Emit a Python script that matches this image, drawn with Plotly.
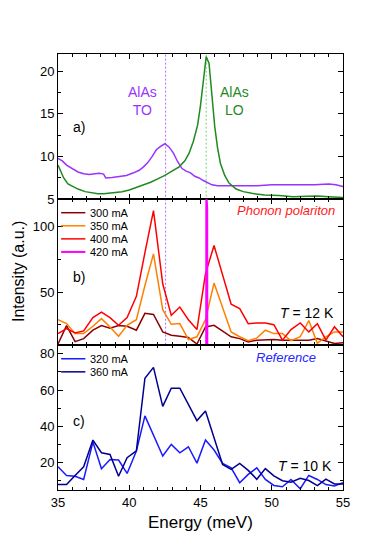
import plotly.graph_objects as go
from plotly.subplots import make_subplots

# panel a) : AlAs TO / LO reference spectra
e_to = [35.0, 35.3, 35.6, 36.0, 36.4, 36.8, 37.2, 37.6, 37.9, 38.2, 38.35, 38.8, 39.3, 39.8,
        40.3, 40.7, 41.0, 41.3, 41.6, 41.9, 42.2, 42.5, 42.8, 43.1, 43.4, 43.7, 44.0, 44.3,
        44.6, 44.9, 45.2, 45.5, 45.8, 46.2, 47.0, 48.0, 49.0, 50.0, 51.0, 52.0, 53.0, 54.0,
        54.5, 55.0]
i_to = [9.8, 9.5, 9.0, 8.6, 8.2, 8.0, 7.9, 8.0, 8.05, 7.95, 7.5, 7.55, 7.7, 7.8,
        8.1, 8.4, 8.8, 9.3, 10.0, 10.8, 11.2, 11.5, 11.1, 10.4, 9.4, 8.6, 8.3, 8.1,
        7.7, 7.5, 7.2, 6.9, 6.7, 6.6, 6.6, 6.65, 6.6, 6.7, 6.7, 6.75, 6.7, 6.8,
        6.7, 6.5]
e_lo = [35.0, 35.2, 35.4, 35.7, 36.0, 36.4, 36.9, 37.4, 37.8, 38.2, 38.6, 39.0, 39.5, 40.0,
        40.5, 41.0, 41.5, 42.0, 42.5, 43.0, 43.5, 43.9, 44.2, 44.5, 44.8, 45.0, 45.2, 45.4,
        45.6, 45.8, 46.0, 46.2, 46.4, 46.7, 47.0, 47.5, 48.0, 48.6, 49.5, 50.5, 51.5, 52.5,
        53.2, 54.0, 55.0]
i_lo = [9.0, 8.2, 7.5, 6.8, 6.5, 6.2, 5.9, 5.75, 5.65, 5.65, 5.7, 5.75, 5.9, 6.1,
        6.4, 6.7, 7.0, 7.4, 7.8, 8.3, 8.8, 9.5, 10.4, 11.8, 13.7, 16.0, 19.0, 21.7,
        20.9, 17.5, 13.5, 11.0, 9.2, 7.8, 6.9, 6.2, 5.9, 5.7, 5.5, 5.45, 5.3, 5.35,
        5.4, 5.3, 5.2]

# panels b) and c) share the same energy grid
energy = [35.0, 35.6, 36.2, 36.8, 37.45, 38.05, 38.65, 39.25, 39.85, 40.5, 41.1, 41.7,
          42.35, 42.95, 43.55, 44.15, 44.75, 45.35, 45.95, 46.55, 47.15, 47.75, 48.35,
          48.95, 49.55, 50.15, 50.75, 51.35, 52.0, 52.6, 53.2, 53.8, 54.4, 55.0]
i_300 = [10.5, 24.5, 12.3, 14.6, 21, 24.5, 22.5, 24.5, 24, 21, 33.8, 33,
         19.7, 17.2, 16.4, 15.4, 10.5, 23.5, 24.7, 20, 16, 14.6, 12.1,
         13.4, 13.9, 13.9, 13.4, 13.4, 13.9, 13.4, 14.6, 12.8, 10.9, 11.4]
i_350 = [29, 26, 18.4, 18.4, 24, 29.8, 23.4, 16.4, 24.7, 29, 55, 79,
         36.6, 25.5, 26, 13.9, 16, 29, 56.8, 38, 19.7, 16, 13,
         15, 21, 18.4, 18.4, 13, 16, 28.3, 11.1, 16, 19.7, 19.7]
i_400 = [18.4, 22.2, 18.9, 20.5, 30.6, 34.8, 30.6, 24.7, 30.6, 46.7, 80, 111.9,
         56.3, 32.3, 38.6, 29.0, 21.5, 64, 85.4, 63, 40.7, 37.4, 26.0,
         26.5, 26.5, 25.2, 13.4, 21.5, 26.5, 19.7, 26.0, 13.4, 23.6, 16.0]
e_420 = [45.40, 45.41, 45.47, 45.48]
i_420 = [0, 125, 114, 0]

i_320 = [17.8, 13, 12.6, 10.8, 31.4, 16.7, 21.8, 21.5, 14.1, 26.5, 45.8, 34.7,
         23.7, 30.1, 25.5, 28.8, 19.8, 32.5, 27, 19.6, 17.2, 9, 13.6,
         17.2, 10.8, 7.5, 6.8, 10.8, 5.7, 13, 10.8, 8, 7.2, 9]
i_360 = [8, 8, 13, 17.8, 32.5, 25.5, 24.6, 12.6, 22.8, 26.5, 66.5, 72.5,
         51, 61, 61, 52, 43.2, 48.5, 34, 19.1, 16.4, 19.6, 15.8,
         10.9, 16.8, 12.8, 10.1, 9.3, 11.5, 10.2, 7.4, 11, 8.3, 8.3]

to_line = 42.55
lo_line = 45.4

purple = "#9a33ff"
green = "#1f8a1f"

fig = make_subplots(rows=3, cols=1, shared_xaxes=True, vertical_spacing=0)

fig.add_trace(go.Scatter(x=e_to, y=i_to, mode="lines", line=dict(color=purple, width=1.5)),
              row=1, col=1)
fig.add_trace(go.Scatter(x=e_lo, y=i_lo, mode="lines", line=dict(color=green, width=1.5)),
              row=1, col=1)

series_b = [("300 mA", energy, i_300, "#8b0000", 1.5), ("350 mA", energy, i_350, "#ff8000", 1.5),
            ("400 mA", energy, i_400, "#ff0000", 1.5), ("420 mA", e_420, i_420, "#ff00ff", 2)]
series_c = [("320 mA", energy, i_320, "#1a1aff", 1.5), ("360 mA", energy, i_360, "#00008f", 1.5)]

ann = []
shapes = []
# compact legends drawn in the corner of each panel (short line + label)
for row, series, ytop in [(2, series_b, 0.908), (3, series_c, 0.903)]:
    for k, (name, xs, ys, col, w) in enumerate(series):
        fig.add_trace(go.Scatter(x=xs, y=ys, mode="lines", name=name,
                                 line=dict(color=col, width=w)), row=row, col=1)
        yy = ytop - k * 0.09
        shapes.append(dict(type="line", xref=f"x{row} domain", yref=f"y{row} domain",
                           x0=0.011, x1=0.096, y0=yy, y1=yy, line=dict(color=col, width=w)))
        ann.append(dict(x=0.104, y=yy, xref=f"x{row} domain", yref=f"y{row} domain",
                        text=name, xanchor="left", yanchor="middle",
                        font=dict(size=11, color="black")))

# dotted phonon lines through a) and b)
for xv, col in [(to_line, "#b366ff"), (lo_line, "#7acc7a")]:
    shapes.append(dict(type="line", xref="x", yref="paper", x0=xv, x1=xv, y0=1/3, y1=1,
                       line=dict(color=col, width=1, dash="2px,2px"), layer="below"))

font = "Liberation Sans, Arial, sans-serif"
ax = dict(showline=True, linecolor="black", linewidth=1, mirror="allticks", ticks="inside",
          ticklen=5, tickcolor="black", showgrid=False, zeroline=False,
          tickfont=dict(size=13, color="black"))
fig.update_xaxes(**ax, range=[35, 55], dtick=5,
                 minor=dict(ticks="inside", dtick=1, ticklen=3, tickcolor="black"))
fig.update_yaxes(**ax)
fig.update_yaxes(range=[5, 22], dtick=5,
                 minor=dict(ticks="inside", dtick=2.5, ticklen=3, tickcolor="black"), row=1, col=1)
fig.update_yaxes(range=[10, 120.5], tickvals=[50, 100],
                 minor=dict(ticks="inside", tickvals=[25, 75], ticklen=3, tickcolor="black"),
                 row=2, col=1)
fig.update_yaxes(range=[5, 85], tickvals=[20, 40, 60, 80],
                 minor=dict(ticks="inside", tickvals=[10, 30, 50, 70], ticklen=3, tickcolor="black"),
                 row=3, col=1)

ann += [
    dict(x=40.9, y=16.5, xref="x", yref="y", text="AlAs<br>TO", font=dict(size=14, color=purple)),
    dict(x=47.4, y=16.5, xref="x", yref="y", text="AlAs<br>LO", font=dict(size=14, color=green)),
    dict(x=36.5, y=13.5, xref="x", yref="y", text="a)", font=dict(size=14, color="black")),
    dict(x=36.5, y=61.4, xref="x2", yref="y2", text="b)", font=dict(size=14, color="black")),
    dict(x=36.5, y=43.2, xref="x3", yref="y3", text="c)", font=dict(size=14, color="black")),
    dict(x=54.6, y=112, xref="x2", yref="y2", text="<i>Phonon polariton</i>", xanchor="right",
         font=dict(size=13, color="#ff1a1a")),
    dict(x=54.5, y=34, xref="x2", yref="y2", text="<i>T</i> = 12 K", xanchor="right",
         font=dict(size=14, color="black")),
    dict(x=51.0, y=78, xref="x3", yref="y3", text="<i>Reference</i>",
         font=dict(size=13, color="#2626ff")),
    dict(x=54.4, y=18.3, xref="x3", yref="y3", text="<i>T</i> = 10 K", xanchor="right",
         font=dict(size=14, color="black")),
    dict(x=-40/285, y=0.5, xref="paper", yref="paper", text="Intensity (a.u.)", textangle=-90,
         xanchor="center", yanchor="middle", font=dict(size=16, color="black")),
    dict(x=0.5, y=-32/436, xref="paper", yref="paper", text="Energy (meV)",
         xanchor="center", yanchor="middle", font=dict(size=17, color="black")),
]
for a in ann:
    a.setdefault("showarrow", False)

# page body has an 8px margin, so the figure is shrunk and shifted to compensate
fig.update_layout(
    width=366, height=529,
    margin=dict(l=50, r=31, t=46, b=47),
    plot_bgcolor="white", paper_bgcolor="white",
    font=dict(family=font, color="black"),
    showlegend=False,
    annotations=ann, shapes=shapes,
)

fig.write_html("out.html")
